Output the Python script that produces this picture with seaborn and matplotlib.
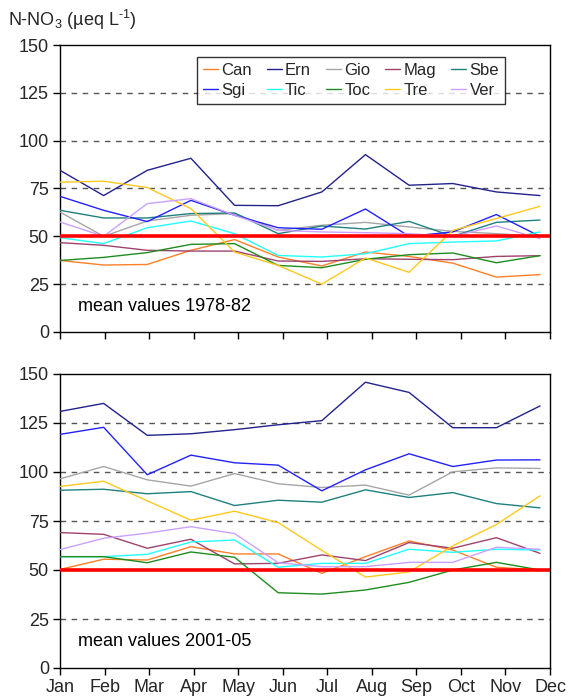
import numpy as np
import pandas as pd
import matplotlib
matplotlib.use("Agg")
import matplotlib.pyplot as plt
import seaborn as sns

months = ["Jan", "Feb", "Mar", "Apr", "May", "Jun", "Jul", "Aug", "Sep", "Oct", "Nov", "Dec"]
sites = ["Can", "Ern", "Gio", "Mag", "Sbe", "Sgi", "Tic", "Toc", "Tre", "Ver"]

# Monthly mean N-NO3 (µeq/L), 1978-82
can_7882 = [37.4, 35.0, 35.3, 42.7, 48.3, 39.2, 34.5, 41.8, 39.5, 36.0, 28.7, 30.0]
ern_7882 = [84.5, 71.3, 84.5, 90.8, 66.2, 66.0, 73.2, 92.7, 76.7, 77.6, 73.2, 71.3]
gio_7882 = [62.7, 50.0, 58.0, 61.0, 61.9, 53.1, 55.8, 57.3, 54.9, 52.6, 51.4, 50.0]
mag_7882 = [46.7, 45.3, 42.7, 42.3, 42.3, 37.1, 36.9, 38.3, 38.0, 37.8, 39.5, 39.9]
sbe_7882 = [63.6, 59.6, 59.6, 61.9, 62.2, 51.4, 55.4, 53.8, 57.8, 50.0, 57.3, 58.5]
sgi_7882 = [70.9, 63.6, 57.7, 68.8, 61.0, 54.5, 53.7, 64.3, 50.0, 52.3, 61.4, 50.0]
tic_7882 = [49.3, 46.2, 54.5, 58.0, 51.4, 40.0, 39.2, 40.9, 46.2, 47.0, 47.6, 52.3]
toc_7882 = [37.4, 39.0, 41.5, 45.8, 46.2, 34.8, 33.6, 38.0, 40.4, 41.3, 36.2, 39.9]
tre_7882 = [78.3, 78.8, 75.5, 64.5, 41.8, 34.8, 25.0, 38.7, 31.2, 53.1, 59.3, 65.7]
ver_7882 = [57.5, 50.0, 67.1, 69.7, 61.0, 53.1, 52.3, 51.9, 51.4, 50.0, 55.4, 48.8]

# Monthly mean N-NO3 (µeq/L), 2001-05
can_0105 = [50.3, 55.5, 55.1, 61.9, 58.2, 58.2, 48.3, 56.8, 64.8, 60.2, 51.4, 50.0]
ern_0105 = [130.9, 135.0, 118.7, 119.5, 121.6, 124.1, 126.2, 145.8, 140.6, 122.6, 122.6, 133.7]
gio_0105 = [96.5, 102.8, 96.0, 92.8, 99.2, 94.0, 92.1, 93.3, 88.2, 100.1, 102.1, 101.8]
mag_0105 = [69.1, 68.2, 61.1, 65.7, 53.1, 53.4, 57.7, 54.8, 64.0, 61.1, 66.5, 58.5]
sbe_0105 = [90.7, 91.2, 88.9, 90.0, 82.9, 85.6, 84.6, 90.9, 87.0, 89.5, 83.9, 81.7]
sgi_0105 = [119.2, 122.8, 98.6, 108.6, 104.7, 103.5, 90.4, 101.1, 109.3, 102.8, 106.1, 106.2]
tic_0105 = [56.8, 56.8, 58.0, 64.3, 65.3, 51.4, 53.4, 53.4, 60.6, 59.0, 60.6, 60.2]
toc_0105 = [56.8, 56.8, 53.7, 59.2, 56.5, 38.4, 37.7, 39.8, 43.7, 50.0, 53.9, 50.0]
tre_0105 = [92.6, 95.3, 85.3, 75.4, 80.0, 74.2, 60.0, 46.4, 49.0, 62.3, 73.2, 87.8]
ver_0105 = [60.4, 66.2, 68.8, 72.1, 68.6, 53.7, 51.7, 51.7, 53.9, 53.9, 61.6, 60.6]

threshold = 50
y_ticks = [0, 25, 50, 75, 100, 125, 150]
grid_levels = [25, 75, 100, 125]

palette = {
    "Can": "#FF7F27", "Ern": "#22228C", "Gio": "#A6A6A6", "Mag": "#A0426E",
    "Sbe": "#1F8080", "Sgi": "#2222FF", "Tic": "#22FFFF", "Toc": "#1F8C1F",
    "Tre": "#FFC81E", "Ver": "#CCA0FF",
}

period_7882 = [can_7882, ern_7882, gio_7882, mag_7882, sbe_7882,
               sgi_7882, tic_7882, toc_7882, tre_7882, ver_7882]
period_0105 = [can_0105, ern_0105, gio_0105, mag_0105, sbe_0105,
               sgi_0105, tic_0105, toc_0105, tre_0105, ver_0105]


def to_long(series_list):
    rows = []
    for site, vals in zip(sites, series_list):
        for i, v in enumerate(vals):
            rows.append({"month": i, "site": site, "value": v})
    return pd.DataFrame(rows)


sns.set_theme(style="white")
plt.rcParams["font.family"] = ["Liberation Sans", "DejaVu Sans"]
plt.rcParams["mathtext.fontset"] = "custom"
plt.rcParams["mathtext.rm"] = "Liberation Sans"
plt.rcParams["mathtext.it"] = "Liberation Sans:italic"
plt.rcParams["axes.edgecolor"] = "black"

FS = 13

fig = plt.figure(figsize=(5.69, 6.99), dpi=100)
W, H = 569, 699
ax_top = fig.add_axes([60 / W, 1 - 332 / H, 490 / W, 287 / H])
ax_bot = fig.add_axes([60 / W, 1 - 668 / H, 490 / W, 294 / H])

xmax = 11 * 490 / 480
tick_pos = np.linspace(0, xmax, 12)

for ax, data, label in [(ax_top, period_7882, "mean values 1978-82"),
                        (ax_bot, period_0105, "mean values 2001-05")]:
    for g in grid_levels:
        ax.axhline(g, color="#555555", lw=1.0, ls=(0, (4, 4)), zorder=1)
    df = to_long(data)
    sns.lineplot(data=df, x="month", y="value", hue="site", hue_order=sites,
                 palette=palette, lw=1.0, ax=ax, legend=(ax is ax_top), zorder=3)
    ax.axhline(threshold, color="#FF0000", lw=2.6, zorder=4)
    ax.set_xlim(0, xmax)
    ax.set_ylim(0, 150)
    ax.set_yticks(y_ticks)
    ax.set_yticklabels([str(t) for t in y_ticks], fontsize=FS)
    ax.set_xticks(tick_pos)
    ax.tick_params(axis="both", direction="out", length=5, width=1,
                   color="black", left=True, bottom=True, pad=3)
    ax.set_xlabel("")
    ax.set_ylabel("")
    for s in ax.spines.values():
        s.set_linewidth(1.0)
        s.set_color("black")
    ax.text(18 / 490, 0.09, label, transform=ax.transAxes, fontsize=FS,
            ha="left", va="center", color="black")

ax_top.set_xticklabels([])
ax_bot.set_xticklabels(months, fontsize=FS)

# legend filled row by row: Can..Sbe on the first row, Sgi..Ver on the second
handles, labels = ax_top.get_legend_handles_labels()
lookup = dict(zip(labels, handles))
order = []
for c in range(5):
    order += [sites[c], sites[c + 5]]
leg = ax_top.legend([lookup[s] for s in order], order, ncol=5, loc="upper right",
                    bbox_to_anchor=(0.908, 0.958), fontsize=12, frameon=True,
                    fancybox=False, edgecolor="black", handlelength=0.9,
                    handletextpad=0.2, columnspacing=0.9, labelspacing=0.3,
                    borderpad=0.35, borderaxespad=0.0)
leg.get_frame().set_linewidth(1.0)

fig.text(8 / W, 1 - 20 / H, r"N-NO$_3$ (µeq L$^{\text{-1}}$)", fontsize=FS,
         ha="left", va="center")

fig.savefig("out.png", dpi=100)
